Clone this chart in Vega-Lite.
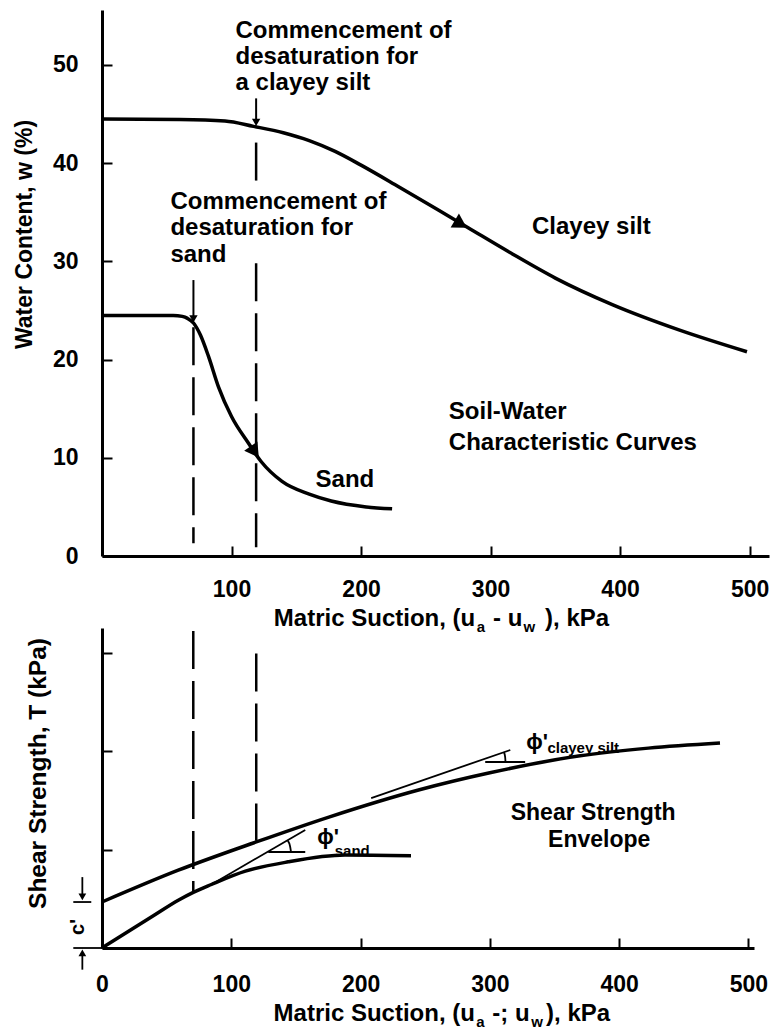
{
  "$schema": "https://vega.github.io/schema/vega-lite/v6.json",
  "background": "white",
  "padding": {"left": 13, "top": 10, "right": 5, "bottom": 5},
  "bounds": "flush",
  "spacing": 72,
  "config": {
    "view": {"stroke": null},
    "axis": {
      "domainColor": "black", "domainWidth": 3, "tickColor": "black", "tickWidth": 2, "tickSize": -10,
      "labelFont": "Liberation Sans", "labelFontWeight": "bold", "labelFontSize": 23, "labelColor": "black", "labelFlush": false,
      "titleFont": "Liberation Sans", "titleFontWeight": "bold", "titleFontSize": 23, "titleColor": "black",
      "grid": false
    },
    "text": {"font": "Liberation Sans", "fontWeight": "bold", "fontSize": 24, "color": "black"}
  },
  "datasets": {
    "swcc": [
      {"soil": "Clayey silt", "x": 0, "w": 44.5}, {"soil": "Clayey silt", "x": 60, "w": 44.45}, {"soil": "Clayey silt", "x": 95, "w": 44.3},
      {"soil": "Clayey silt", "x": 117, "w": 43.75}, {"soil": "Clayey silt", "x": 140, "w": 43.1}, {"soil": "Clayey silt", "x": 160, "w": 42.3},
      {"soil": "Clayey silt", "x": 180, "w": 41.2}, {"soil": "Clayey silt", "x": 200, "w": 39.8}, {"soil": "Clayey silt", "x": 229, "w": 37.6},
      {"soil": "Clayey silt", "x": 260, "w": 35.2}, {"soil": "Clayey silt", "x": 283, "w": 33.4}, {"soil": "Clayey silt", "x": 315, "w": 30.9},
      {"soil": "Clayey silt", "x": 350, "w": 28.3}, {"soil": "Clayey silt", "x": 394, "w": 25.6}, {"soil": "Clayey silt", "x": 446, "w": 23.0},
      {"soil": "Clayey silt", "x": 498, "w": 20.8},
      {"soil": "Sand", "x": 0, "w": 24.5}, {"soil": "Sand", "x": 55, "w": 24.5}, {"soil": "Sand", "x": 62, "w": 24.4},
      {"soil": "Sand", "x": 66, "w": 24.2}, {"soil": "Sand", "x": 70.8, "w": 23.7}, {"soil": "Sand", "x": 76, "w": 22.5},
      {"soil": "Sand", "x": 82.3, "w": 20.3}, {"soil": "Sand", "x": 90, "w": 17.2}, {"soil": "Sand", "x": 100, "w": 14.2},
      {"soil": "Sand", "x": 113, "w": 11.5}, {"soil": "Sand", "x": 123, "w": 9.6}, {"soil": "Sand", "x": 139, "w": 7.6},
      {"soil": "Sand", "x": 160, "w": 6.3}, {"soil": "Sand", "x": 177, "w": 5.6}, {"soil": "Sand", "x": 204, "w": 5.0},
      {"soil": "Sand", "x": 224, "w": 4.8}
    ],
    "sse": [
      {"soil": "Clayey silt", "x": 0, "t": 0.467}, {"soil": "Clayey silt", "x": 59, "t": 0.79}, {"soil": "Clayey silt", "x": 119.3, "t": 1.077},
      {"soil": "Clayey silt", "x": 175.5, "t": 1.33}, {"soil": "Clayey silt", "x": 244.8, "t": 1.605}, {"soil": "Clayey silt", "x": 300, "t": 1.78},
      {"soil": "Clayey silt", "x": 368.5, "t": 1.95}, {"soil": "Clayey silt", "x": 422.6, "t": 2.03}, {"soil": "Clayey silt", "x": 478, "t": 2.082},
      {"soil": "Sand", "x": 0, "t": 0}, {"soil": "Sand", "x": 40, "t": 0.33}, {"soil": "Sand", "x": 59, "t": 0.485},
      {"soil": "Sand", "x": 70.6, "t": 0.565}, {"soil": "Sand", "x": 84.6, "t": 0.645}, {"soil": "Sand", "x": 110.9, "t": 0.78},
      {"soil": "Sand", "x": 144, "t": 0.875}, {"soil": "Sand", "x": 188, "t": 0.944}, {"soil": "Sand", "x": 239, "t": 0.936}
    ],
    "topDash": [
      {"x": 70.6, "y": 23.3, "y2": 1.3},
      {"x": 119, "y": 42.1, "y2": 37.5},
      {"x": 119, "y": 29.8, "y2": 0.9}
    ],
    "topSegs": [
      {"x": 119, "y": 46.6, "x2": 119, "y2": 44.2},
      {"x": 70.6, "y": 28.1, "x2": 70.6, "y2": 24.2}
    ],
    "topHeads": [{"x": 119, "y": 44.15}, {"x": 70.6, "y": 24.15}],
    "clayHead": [{"x": 277, "y": 33.8}],
    "sandHead": [{"x": 118, "y": 10.6}],
    "topText": [
      {"x": 103.1, "y": 53.46, "text": "Commencement of"},
      {"x": 103.1, "y": 50.8, "text": "desaturation for"},
      {"x": 103.1, "y": 48.2, "text": "a clayey silt"},
      {"x": 52.8, "y": 36.05, "text": "Commencement of"},
      {"x": 52.8, "y": 33.4, "text": "desaturation for"},
      {"x": 52.8, "y": 30.65, "text": "sand"},
      {"x": 332, "y": 33.5, "text": "Clayey silt"},
      {"x": 164.9, "y": 7.74, "text": "Sand"},
      {"x": 267.8, "y": 14.66, "text": "Soil-Water"},
      {"x": 267.8, "y": 11.5, "text": "Characteristic Curves"},
      {"x": 132.7, "y": -6.42, "text": "Matric Suction, (u"},
      {"x": 301.9, "y": -6.42, "text": "- u"},
      {"x": 342.1, "y": -6.42, "text": "), kPa"}
    ],
    "topSub": [
      {"x": 289.4, "y": -7.23, "text": "a"},
      {"x": 325.5, "y": -7.23, "text": "w"}
    ],
    "botDash": [
      {"x": 70.6, "y": 3.22, "y2": 0.58},
      {"x": 119.3, "y": 2.99, "y2": 1.09}
    ],
    "botSegs": [
      {"x": 84.6, "y": 0.645, "x2": 157.2, "y2": 1.199},
      {"x": 128.6, "y": 0.975, "x2": 157.2, "y2": 0.975},
      {"x": 208.2, "y": 1.523, "x2": 315.8, "y2": 2.011},
      {"x": 296.4, "y": 1.889, "x2": 327.3, "y2": 1.889},
      {"x": -15.2, "y": 0.72, "x2": -15.2, "y2": 0.52},
      {"x": -22.2, "y": 0.467, "x2": -8.3, "y2": 0.467},
      {"x": -22.2, "y": 0, "x2": 0, "y2": 0},
      {"x": -15.2, "y": -0.22, "x2": -15.2, "y2": -0.05}
    ],
    "arcs": [
      {"arc": "sand", "k": 1, "x": 146.2, "y": 0.975}, {"arc": "sand", "k": 2, "x": 145.5, "y": 1.031}, {"arc": "sand", "k": 3, "x": 143.7, "y": 1.091},
      {"arc": "clay", "k": 1, "x": 312.1, "y": 1.889}, {"arc": "clay", "k": 2, "x": 311.8, "y": 1.94}, {"arc": "clay", "k": 3, "x": 310.9, "y": 1.988}
    ],
    "botDown": [{"x": -15.2, "y": 0.52}],
    "botUp": [{"x": -15.2, "y": -0.05}],
    "botTextC": [
      {"x": 379.9, "y": 1.371, "text": "Shear Strength"},
      {"x": 384.6, "y": 1.097, "text": "Envelope"}
    ],
    "botText": [
      {"x": 132.7, "y": -0.67, "text": "Matric Suction, (u"},
      {"x": 301.9, "y": -0.67, "text": "-; u"},
      {"x": 343.5, "y": -0.67, "text": "), kPa"}
    ],
    "botSub": [
      {"x": 289.4, "y": -0.75, "text": "a"},
      {"x": 332, "y": -0.75, "text": "w"}
    ],
    "phi": [
      {"x": 166.5, "y": 1.125, "text": "ϕ'"},
      {"x": 328.2, "y": 2.095, "text": "ϕ'"}
    ],
    "phiSub": [
      {"x": 180, "y": 0.99, "text": "sand"},
      {"x": 344.5, "y": 2.035, "text": "clayey silt"}
    ],
    "cprime": [{"x": -18.3, "y": 0.213, "text": "c'"}]
  },
  "vconcat": [
    {
      "width": 667,
      "height": 546,
      "layer": [
        {
          "data": {"name": "swcc"},
          "mark": {"type": "line", "interpolate": "monotone", "strokeWidth": 3.5, "color": "black"},
          "encoding": {
            "x": {"field": "x", "type": "quantitative", "scale": {"domain": [0, 515], "nice": false},
                  "axis": {"title": null, "values": [100, 200, 300, 400, 500], "labelPadding": 32}},
            "y": {"field": "w", "type": "quantitative", "scale": {"domain": [0, 55.6], "nice": false},
                  "axis": {"title": "Water Content, w (%)", "values": [0, 10, 20, 30, 40, 50], "labelPadding": 34,
                           "titleAngle": 270, "titleX": -78, "titleY": 224, "titleBaseline": "middle", "titleAlign": "center"}},
            "detail": {"field": "soil"}
          }
        },
        {
          "data": {"name": "topDash"},
          "mark": {"type": "rule", "strokeDash": [38, 12], "strokeWidth": 2.5, "color": "black"},
          "encoding": {"x": {"field": "x", "type": "quantitative"}, "y": {"field": "y", "type": "quantitative"}, "y2": {"field": "y2"}}
        },
        {
          "data": {"name": "topSegs"},
          "mark": {"type": "rule", "strokeWidth": 2, "color": "black"},
          "encoding": {"x": {"field": "x", "type": "quantitative"}, "y": {"field": "y", "type": "quantitative"}, "x2": {"field": "x2"}, "y2": {"field": "y2"}}
        },
        {
          "data": {"name": "topHeads"},
          "mark": {"type": "point", "shape": "triangle-down", "filled": true, "size": 70, "opacity": 1, "color": "black"},
          "encoding": {"x": {"field": "x", "type": "quantitative"}, "y": {"field": "y", "type": "quantitative"}}
        },
        {
          "data": {"name": "clayHead"},
          "mark": {"type": "point", "shape": "triangle-right", "filled": true, "size": 260, "angle": 31, "opacity": 1, "color": "black"},
          "encoding": {"x": {"field": "x", "type": "quantitative"}, "y": {"field": "y", "type": "quantitative"}}
        },
        {
          "data": {"name": "sandHead"},
          "mark": {"type": "point", "shape": "triangle-right", "filled": true, "size": 260, "angle": 55, "opacity": 1, "color": "black"},
          "encoding": {"x": {"field": "x", "type": "quantitative"}, "y": {"field": "y", "type": "quantitative"}}
        },
        {
          "data": {"name": "topText"},
          "mark": {"type": "text", "align": "left", "baseline": "middle"},
          "encoding": {"x": {"field": "x", "type": "quantitative"}, "y": {"field": "y", "type": "quantitative"}, "text": {"field": "text"}}
        },
        {
          "data": {"name": "topSub"},
          "mark": {"type": "text", "align": "left", "baseline": "middle", "fontSize": 15},
          "encoding": {"x": {"field": "x", "type": "quantitative"}, "y": {"field": "y", "type": "quantitative"}, "text": {"field": "text"}}
        }
      ]
    },
    {
      "width": 652,
      "height": 320,
      "layer": [
        {
          "data": {"name": "sse"},
          "mark": {"type": "line", "interpolate": "monotone", "strokeWidth": 3.5, "color": "black"},
          "encoding": {
            "x": {"field": "x", "type": "quantitative", "scale": {"domain": [0, 504.3], "nice": false},
                  "axis": {"title": null, "values": [0, 100, 200, 300, 400, 500], "labelPadding": 35}},
            "y": {"field": "t", "type": "quantitative", "scale": {"domain": [0, 3.25], "nice": false},
                  "axis": {"title": "Shear Strength, T  (kPa)", "values": [1, 2, 3], "labels": false, "titleFontSize": 24.5,
                           "titleAngle": 270, "titleX": -63.7, "titleY": 145, "titleBaseline": "middle", "titleAlign": "center"}},
            "detail": {"field": "soil"}
          }
        },
        {
          "data": {"name": "botDash"},
          "mark": {"type": "rule", "strokeDash": [38, 12], "strokeWidth": 2.5, "color": "black"},
          "encoding": {"x": {"field": "x", "type": "quantitative"}, "y": {"field": "y", "type": "quantitative"}, "y2": {"field": "y2"}}
        },
        {
          "data": {"name": "botSegs"},
          "mark": {"type": "rule", "strokeWidth": 1.8, "color": "black"},
          "encoding": {"x": {"field": "x", "type": "quantitative"}, "y": {"field": "y", "type": "quantitative"}, "x2": {"field": "x2"}, "y2": {"field": "y2"}}
        },
        {
          "data": {"name": "arcs"},
          "mark": {"type": "line", "interpolate": "monotone", "strokeWidth": 1.8, "color": "black"},
          "encoding": {"x": {"field": "x", "type": "quantitative"}, "y": {"field": "y", "type": "quantitative"}, "detail": {"field": "arc"}, "order": {"field": "k"}}
        },
        {
          "data": {"name": "botDown"},
          "mark": {"type": "point", "shape": "triangle-down", "filled": true, "size": 60, "opacity": 1, "color": "black"},
          "encoding": {"x": {"field": "x", "type": "quantitative"}, "y": {"field": "y", "type": "quantitative"}}
        },
        {
          "data": {"name": "botUp"},
          "mark": {"type": "point", "shape": "triangle-up", "filled": true, "size": 60, "opacity": 1, "color": "black"},
          "encoding": {"x": {"field": "x", "type": "quantitative"}, "y": {"field": "y", "type": "quantitative"}}
        },
        {
          "data": {"name": "botTextC"},
          "mark": {"type": "text", "align": "center", "baseline": "middle", "fontSize": 23},
          "encoding": {"x": {"field": "x", "type": "quantitative"}, "y": {"field": "y", "type": "quantitative"}, "text": {"field": "text"}}
        },
        {
          "data": {"name": "botText"},
          "mark": {"type": "text", "align": "left", "baseline": "middle"},
          "encoding": {"x": {"field": "x", "type": "quantitative"}, "y": {"field": "y", "type": "quantitative"}, "text": {"field": "text"}}
        },
        {
          "data": {"name": "botSub"},
          "mark": {"type": "text", "align": "left", "baseline": "middle", "fontSize": 15},
          "encoding": {"x": {"field": "x", "type": "quantitative"}, "y": {"field": "y", "type": "quantitative"}, "text": {"field": "text"}}
        },
        {
          "data": {"name": "phi"},
          "mark": {"type": "text", "align": "left", "baseline": "middle", "fontSize": 22},
          "encoding": {"x": {"field": "x", "type": "quantitative"}, "y": {"field": "y", "type": "quantitative"}, "text": {"field": "text"}}
        },
        {
          "data": {"name": "phiSub"},
          "mark": {"type": "text", "align": "left", "baseline": "middle", "fontSize": 15},
          "encoding": {"x": {"field": "x", "type": "quantitative"}, "y": {"field": "y", "type": "quantitative"}, "text": {"field": "text"}}
        },
        {
          "data": {"name": "cprime"},
          "mark": {"type": "text", "align": "center", "baseline": "middle", "fontSize": 20, "angle": 270},
          "encoding": {"x": {"field": "x", "type": "quantitative"}, "y": {"field": "y", "type": "quantitative"}, "text": {"field": "text"}}
        }
      ]
    }
  ]
}
